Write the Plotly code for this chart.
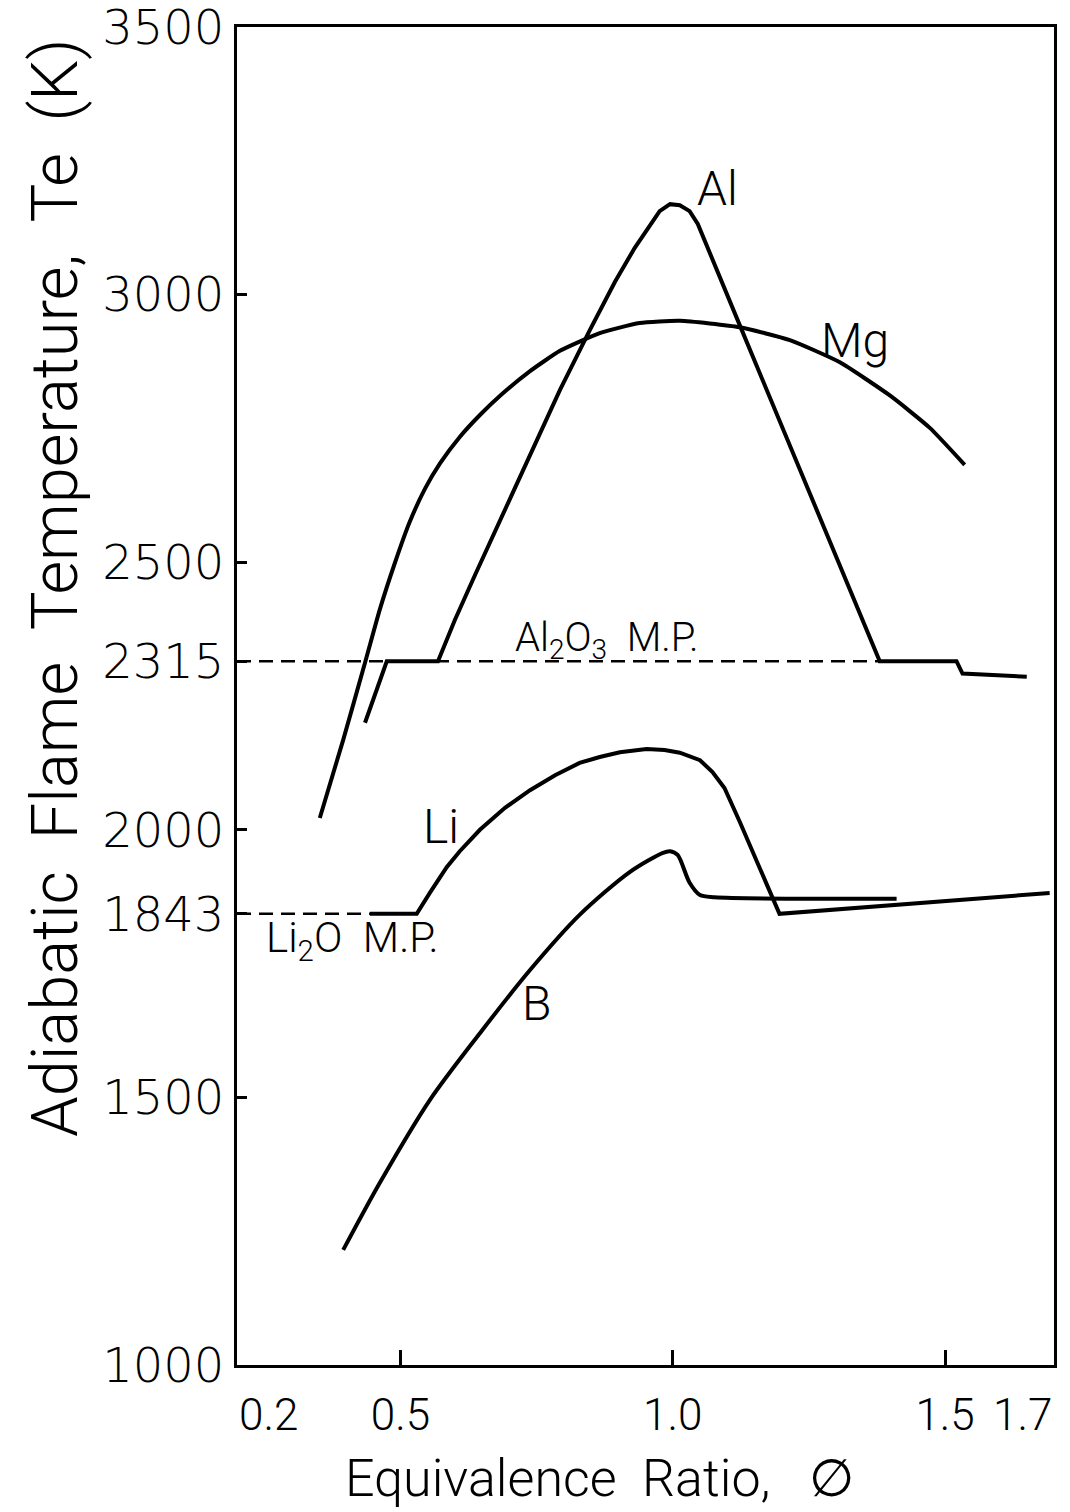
import plotly.graph_objects as go

# ---------------- data ----------------
al_phi = [0.435, 0.475, 0.569, 0.600, 0.637, 0.683, 0.738, 0.793, 0.848, 0.894, 0.930, 0.958,
          0.976, 0.995, 1.013, 1.031, 1.046, 1.123, 1.233, 1.380, 1.521, 1.532, 1.650]
al_T = [2200, 2315, 2315, 2392, 2476, 2579, 2700, 2822, 2934, 3024, 3087, 3130,
        3156, 3169, 3167, 3156, 3132, 2943, 2674, 2315, 2315, 2292, 2286]

mg_phi = [0.352, 0.395, 0.435, 0.462, 0.490, 0.517, 0.545, 0.573, 0.609, 0.646, 0.683, 0.738,
          0.793, 0.866, 0.939, 1.013, 1.123, 1.215, 1.306, 1.398, 1.472, 1.536]
mg_T = [2022, 2168, 2312, 2411, 2499, 2575, 2637, 2685, 2734, 2775, 2811, 2857,
        2895, 2928, 2947, 2951, 2939, 2915, 2874, 2812, 2751, 2682]

li_phi = [0.444, 0.530, 0.554, 0.585, 0.609, 0.646, 0.692, 0.738, 0.784, 0.829, 0.866, 0.903,
          0.952, 0.985, 1.013, 1.050, 1.073, 1.095, 1.123, 1.160, 1.196, 1.692]
li_T = [1843, 1843, 1882, 1930, 1960, 2000, 2041, 2074, 2102, 2125, 2136, 2145,
        2151, 2149, 2144, 2130, 2108, 2078, 2015, 1929, 1843, 1882]

b_phi = [0.395, 0.462, 0.554, 0.646, 0.738, 0.829, 0.921, 0.982, 0.995, 1.009, 1.031,
         1.050, 1.077, 1.411]
b_T = [1215, 1340, 1495, 1620, 1738, 1841, 1921, 1957, 1960, 1953, 1901,
       1878, 1874, 1871]

al2o3_mp = 2315
li2o_mp = 1843
al2o3_dash_phi = [0.2, 1.38]
li2o_dash_phi = [0.2, 0.444]

y_tick_vals = [1000, 1500, 1843, 2000, 2315, 2500, 3000, 3500]
y_tick_text = ["1000", "1500", "1843", "2000", "2315", "2500", "3000", "3500"]
x_tick_vals = [0.5, 1.0, 1.5]
x_tick_text = ["0.5", "1.0", "1.5"]
x_edge_vals = [0.2, 1.7]
x_edge_text = ["0.2", "1.7"]

curve_labels = ["Al", "Mg", "Li", "B"]
curve_label_phi = [1.083, 1.334, 0.574, 0.750]
curve_label_T = [3199, 2915, 2007, 1676]

# ---------------- figure ----------------
LIGHT = "Roboto, Lato, Open Sans, sans-serif"
WIDE = "DejaVu Sans, Verdana, sans-serif"
LW = 4

fig = go.Figure()

fig.add_trace(go.Scatter(x=al2o3_dash_phi, y=[al2o3_mp] * 2, mode="lines",
                         line=dict(color="black", width=2.5, dash="14px,8px"), showlegend=False))
fig.add_trace(go.Scatter(x=li2o_dash_phi, y=[li2o_mp] * 2, mode="lines",
                         line=dict(color="black", width=2.5, dash="14px,8px"), showlegend=False))

fig.add_trace(go.Scatter(x=mg_phi, y=mg_T, mode="lines", name="Mg",
                         line=dict(color="black", width=LW, shape="spline", smoothing=0.5)))
fig.add_trace(go.Scatter(x=al_phi, y=al_T, mode="lines", name="Al",
                         line=dict(color="black", width=LW)))
fig.add_trace(go.Scatter(x=li_phi, y=li_T, mode="lines", name="Li",
                         line=dict(color="black", width=LW)))
fig.add_trace(go.Scatter(x=b_phi, y=b_T, mode="lines", name="B",
                         line=dict(color="black", width=LW, shape="spline", smoothing=0.8)))

for t, xv, yv in zip(curve_labels, curve_label_phi, curve_label_T):
    fig.add_annotation(x=xv, y=yv, text=t, showarrow=False,
                       font=dict(family=LIGHT, size=48, color="black", weight=300))

fig.add_annotation(x=0.879, y=2355, text="Al<sub>2</sub>O<sub>3</sub>\u00a0\u00a0M.P.", showarrow=False,
                   font=dict(family=LIGHT, size=40, color="black", weight=300))
fig.add_annotation(x=0.411, y=1794, text="Li<sub>2</sub>O\u00a0\u00a0M.P.", showarrow=False,
                   font=dict(family=LIGHT, size=42, color="black", weight=300))

# edge x tick labels, kept inside the frame like the original
for v, t, anc in zip(x_edge_vals, x_edge_text, ["left", "right"]):
    fig.add_annotation(x=v, y=-0.0374, xref="x", yref="paper", text=t, showarrow=False,
                       xanchor=anc, yanchor="middle",
                       font=dict(family=LIGHT, size=44, color="black", weight=300))

# axis titles
fig.add_annotation(x=-0.2228, y=0.5807, xref="paper", yref="paper",
                   text="Adiabatic\u00a0\u00a0Flame\u00a0\u00a0Temperature,\u00a0\u00a0Te\u00a0\u00a0(K)",
                   textangle=-90, showarrow=False, xanchor="center", yanchor="middle",
                   font=dict(family=LIGHT, size=65, color="black", weight=300))
fig.add_annotation(x=0.4443, y=-0.0845, xref="paper", yref="paper",
                   text="Equivalence\u00a0\u00a0Ratio,\u00a0\u00a0\u00a0\u2205",
                   showarrow=False, xanchor="center", yanchor="middle",
                   font=dict(family=LIGHT, size=52, color="black", weight=300))

fig.update_xaxes(range=[0.2, 1.7], tickvals=x_tick_vals, ticktext=x_tick_text,
                 ticks="inside", ticklen=15, tickwidth=2.5, tickcolor="black",
                 showline=True, linecolor="black", linewidth=3, mirror=True,
                 showgrid=False, zeroline=False, ticklabelstandoff=9, automargin=False,
                 ticklabeloverflow="allow",
                 tickfont=dict(family=LIGHT, size=44, color="black", weight=300))
fig.update_yaxes(range=[1000, 3500], tickvals=y_tick_vals, ticktext=y_tick_text,
                 ticks="inside", ticklen=10, tickwidth=2.5, tickcolor="black",
                 showline=True, linecolor="black", linewidth=3, mirror=True,
                 showgrid=False, zeroline=False, ticklabelstandoff=0, automargin=False,
                 ticklabeloverflow="allow",
                 tickfont=dict(family=WIDE, size=48, color="black", weight=300))

fig.update_layout(width=1070, height=1512, margin=dict(l=237, r=16, t=27, b=147, autoexpand=False),
                  plot_bgcolor="white", paper_bgcolor="white", showlegend=False)

fig.write_html("out.html")
